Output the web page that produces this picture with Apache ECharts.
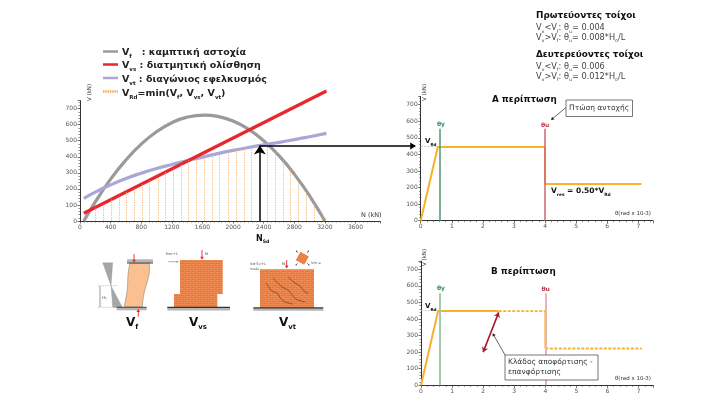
<!DOCTYPE html>
<html>
<head>
<meta charset="utf-8">
<title>Καμπύλες αντοχής τοίχων</title>
<style>
  html, body { margin: 0; padding: 0; background: #fff; }
  #chart { width: 725px; height: 407px; }
</style>
<script src="https://cdn.jsdelivr.net/npm/echarts@6/dist/echarts.min.js"></script>
</head>
<body>
<div id="chart"></div>
<script>
// left chart: V-N interaction curves
const vfN = [50, 200, 400, 600, 800, 1000, 1200, 1400, 1625, 1800, 2000, 2200, 2400, 2600, 2800, 3000, 3200];
const vfV = [0, 119, 261, 380, 479, 556, 612, 647, 660, 652, 623, 572, 500, 407, 292, 157, 0];
const vvsN = [50, 3220];
const vvsV = [48, 810];
const vtN = [50, 200, 400, 600, 800, 1000, 1200, 1400, 1600, 1800, 2000, 2200, 2400, 2600, 2800, 3000, 3220];
const vtV = [141, 180, 225, 265, 298, 327, 352, 376, 398, 420, 440, 458, 474, 490, 507, 525, 546];
const rdN = [196, 305, 414, 514, 610, 705, 810, 910, 1020, 1120, 1220, 1325, 1420, 1520, 1630, 1730, 1825, 1935, 2045, 2145, 2240, 2450, 2550, 2650, 2745, 2855, 2960, 3060, 3160];
const rdV = [83, 109, 135, 159, 182, 205, 230, 254, 281, 305, 329, 354, 378, 389, 401, 412, 422, 433, 444, 453, 461, 476, 432, 382, 327, 250, 185, 112, 33];
const nSd = 2350;
const vSd = 470;

// right charts: V-theta response
const thetaY = 0.6;
const thetaU = 4;
const thetaA = [0, 0.55, 4, 4, 7.1];
const forceA = [0, 445, 445, 222, 222];
const thetaBsolid = [0, 0.55, 2.5];
const forceBsolid = [0, 448, 448];
const thetaBdash = [2.5, 4];
const forceBdash = [448, 448];
const thetaBdrop = [4, 4];
const forceBdrop = [448, 222];
const thetaBres = [4, 7.1];
const forceBres = [222, 222];
const unloadTheta = [2.0, 2.5];
const unloadForce = [200, 440];

const FONT = '"DejaVu Sans", Verdana, sans-serif';
const GREY = '#9a9a9a';
const RED = '#e8262d';
const LILAC = '#a9a6d8';
const ORANGE = '#f5a95f';
const GOLD = '#f7b12a';

function pairs(xs, ys) {
  return xs.map((x, i) => [x, ys[i]]);
}

function axisPair(index, xMax, xStep, xMinor) {
  const common = {
    gridIndex: index,
    type: 'value',
    min: 0,
    splitLine: { show: false },
    axisLine: { onZero: false, lineStyle: { color: '#333', width: 1 } },
    axisTick: { length: 2.5, lineStyle: { color: '#333', width: 0.7 } },
    minorTick: { show: true, length: 1.5, lineStyle: { color: '#444', width: 0.6 } },
    axisLabel: { fontFamily: FONT, fontSize: 6, color: '#555', margin: 3, showMaxLabel: false, formatter: v => String(v) }
  };
  return {
    x: Object.assign({}, common, { max: xMax, interval: xStep,
      minorTick: Object.assign({}, common.minorTick, { splitNumber: xMinor }) }),
    y: Object.assign({}, common, { max: 750, interval: 100,
      minorTick: Object.assign({}, common.minorTick, { splitNumber: 5 }) })
  };
}

const left = axisPair(0, 3920, 400, 8);
const caseA = axisPair(1, 7.47, 1, 5);
const caseB = axisPair(2, 7.47, 1, 5);

function lineSeries(index, xs, ys, color, width, dashed, smooth) {
  return {
    type: 'line', xAxisIndex: index, yAxisIndex: index, data: pairs(xs, ys),
    symbol: 'none', smooth: smooth ? 0.5 : false, silent: true, clip: false,
    lineStyle: { color: color, width: width, type: dashed ? [3, 1.5] : 'solid', cap: 'butt' },
    z: 3
  };
}

function vLines(index, xs, tops, color, width, type, ends) {
  return {
    type: 'line', xAxisIndex: index, yAxisIndex: index, data: [], symbol: 'none', silent: true,
    markLine: {
      silent: true, animation: false,
      symbol: ends || ['none', 'none'], symbolSize: 8, precision: 3,
      label: { show: false },
      lineStyle: { color: color, width: width, type: type || 'solid' },
      data: xs.map((x, i) => [{ coord: [x, 0] }, { coord: [x, tops[i]] }])
    },
    z: 2
  };
}

function segment(index, x0, y0, x1, y1, color, width, type, ends, size) {
  return {
    type: 'line', xAxisIndex: index, yAxisIndex: index, data: [], symbol: 'none', silent: true,
    markLine: {
      silent: true, animation: false, precision: 3,
      symbol: ends || ['none', 'none'], symbolSize: size || 8,
      label: { show: false },
      lineStyle: { color: color, width: width, type: type || 'solid' },
      data: [[{ coord: [x0, y0] }, { coord: [x1, y1] }]]
    },
    z: 4
  };
}

// text helpers
function txt(x, y, text, size, weight, color, extra) {
  return Object.assign({
    type: 'text', x: x, y: y, silent: true, z: 20,
    style: { text: text, fontFamily: FONT,
      fontSize: size, fontWeight: weight || 'normal', fill: color || '#222', verticalAlign: 'middle' }
  }, extra || {});
}

function rich(x, y, text, size, weight, color, align) {
  const c = color || '#222';
  return {
    type: 'text', x: x, y: y, silent: true, z: 20,
    style: {
      text: text, fontFamily: FONT, fontSize: size, fontWeight: weight, fill: c,
      verticalAlign: 'middle', align: align || 'left',
      rich: {
        t: { fontFamily: FONT, fontSize: size, fontWeight: weight, fill: c, lineHeight: size + 3, verticalAlign: 'bottom' },
        s: { fontFamily: FONT, fontSize: size * 0.58, fontWeight: weight, fill: c, lineHeight: size + 3, verticalAlign: 'bottom', padding: [0, 0, -2, 0] }
      }
    }
  };
}

function poly(points, fill, stroke, width) {
  return { type: 'polygon', silent: true, z: 10, shape: { points: points },
    style: { fill: fill, stroke: stroke || 'none', lineWidth: width || 0 } };
}
function box(x, y, w, h, fill, stroke, width) {
  return { type: 'rect', silent: true, z: 10, shape: { x: x, y: y, width: w, height: h },
    style: { fill: fill, stroke: stroke || 'none', lineWidth: width || 0 } };
}
function seg(x1, y1, x2, y2, color, width, dash) {
  return { type: 'line', silent: true, z: 11, shape: { x1: x1, y1: y1, x2: x2, y2: y2 },
    style: { stroke: color, lineWidth: width, lineDash: dash || null } };
}
// arrow pointing from (x1,y1) to (x2,y2)
function arrow(x1, y1, x2, y2, color, width, head) {
  const a = Math.atan2(y2 - y1, x2 - x1);
  const h = head || 3;
  return [
    seg(x1, y1, x2 - Math.cos(a) * h * 0.8, y2 - Math.sin(a) * h * 0.8, color, width),
    poly([[x2, y2],
      [x2 - Math.cos(a) * h * 1.6 + Math.sin(a) * h, y2 - Math.sin(a) * h * 1.6 - Math.cos(a) * h],
      [x2 - Math.cos(a) * h * 1.6 - Math.sin(a) * h, y2 - Math.sin(a) * h * 1.6 + Math.cos(a) * h]], color)
  ];
}
function squig(points, color) {
  return { type: 'polyline', silent: true, z: 12, shape: { points: points, smooth: 0.3 },
    style: { stroke: color || '#6d3a1c', lineWidth: 0.7, fill: 'none' } };
}

// brick texture for the wall sketches
function brickPattern() {
  const c = document.createElement('canvas');
  c.width = 6; c.height = 4;
  const g = c.getContext('2d');
  g.fillStyle = '#e9773a';
  g.fillRect(0, 0, 6, 4);
  g.fillStyle = '#ef9560';
  g.fillRect(0, 0, 6, 0.6);
  g.fillRect(0, 2, 6, 0.6);
  g.fillRect(1, 0, 0.6, 2);
  g.fillRect(4, 2, 0.6, 2);
  return { image: c, repeat: 'repeat' };
}
const brick = brickPattern();

const graphics = [
  // top right notes
  txt(536, 15.5, 'Πρωτεύοντες τοίχοι', 8.9, 'bold', '#111'),
  rich(536, 26.5, '{t|V}{s|v}{t|<V}{s|f}{t|: θ}{s|u}{t|= 0.004}', 8.2, 'normal', '#444'),
  rich(536, 36, '{t|V}{s|v}{t|>V}{s|f}{t|: θ}{s|u}{t|= 0.008*H}{s|o}{t|/L}', 8.2, 'normal', '#444'),
  txt(536, 54.5, 'Δευτερεύοντες τοίχοι', 8.9, 'bold', '#111'),
  rich(536, 65, '{t|V}{s|v}{t|<V}{s|f}{t|: θ}{s|u}{t|= 0.006}', 8.2, 'normal', '#444'),
  rich(536, 75, '{t|V}{s|v}{t|>V}{s|f}{t|: θ}{s|u}{t|= 0.012*H}{s|o}{t|/L}', 8.2, 'normal', '#444'),

  // legend
  seg(103, 51.5, 118, 51.5, GREY, 2.5),
  seg(103, 64.5, 118, 64.5, RED, 2.5),
  seg(103, 78, 118, 78, LILAC, 2.5),
  seg(103, 91.5, 118, 91.5, ORANGE, 2.5, [1.5, 0.8]),
  rich(122, 51, '{t|V}{s|f}{t|   : καμπτική αστοχία}', 9.5, 'bold', '#222'),
  rich(122, 64.5, '{t|V}{s|vs}{t| : διατμητική ολίσθηση}', 9.5, 'bold', '#222'),
  rich(122, 78, '{t|V}{s|vt}{t| : διαγώνιος εφελκυσμός}', 9.5, 'bold', '#222'),
  rich(122, 92, '{t|V}{s|Rd}{t|=min(V}{s|f}{t|, V}{s|vs}{t|, V}{s|vt}{t|)}', 9.5, 'bold', '#222'),

  // axis names
  txt(361, 215, 'N (kN)', 6.5, 'normal', '#333'),
  txt(90, 101, 'V (kN)', 5.5, 'normal', '#333', { rotation: Math.PI / 2 }),
  rich(256, 237, '{t|N}{s|Sd}', 8, 'bold', '#111'),
  txt(424.5, 101, 'V (kN)', 5.5, 'normal', '#333', { rotation: Math.PI / 2 }),
  txt(424.5, 266, 'V (kN)', 5.5, 'normal', '#333', { rotation: Math.PI / 2 }),
  txt(615, 214, 'θ(rad x 10-3)', 5.5, 'normal', '#333'),
  txt(615, 379, 'θ(rad x 10-3)', 5.5, 'normal', '#333'),

  // case titles
  txt(492, 99.5, 'Α περίπτωση', 8.8, 'bold', '#111'),
  txt(491, 271.5, 'Β περίπτωση', 8.8, 'bold', '#111'),
  txt(437, 124, 'θy', 6, 'bold', '#3f8a5c'),
  txt(541, 125, 'θu', 6, 'bold', '#c0394b'),
  txt(437, 288, 'θy', 6, 'bold', '#3f8a5c'),
  txt(541.5, 289.5, 'θu', 6, 'bold', '#c0394b'),
  rich(425, 140, '{t|V}{s|Rd}', 7, 'bold', '#111'),
  rich(425, 305, '{t|V}{s|Rd}', 7, 'bold', '#111'),
  rich(551, 190, '{t|V}{s|res}{t| = 0.50*V}{s|Rd}', 7.5, 'bold', '#111'),

  // callout boxes
  box(566, 100, 66.5, 16.5, '#fff', '#555', 0.8),
  txt(569, 108.3, 'Πτώση αντοχής', 7.5, 'normal', '#333'),
  box(505, 355, 93, 25, '#fff', '#555', 0.8),
  txt(508, 362, 'Κλάδος αποφόρτισης -', 7.5, 'normal', '#333'),
  txt(508, 372.5, 'επανφόρτισης', 7.5, 'normal', '#333'),
  ...arrow(565.7, 107.7, 551, 120, '#222', 0.7, 1.8),
  ...arrow(505, 355, 492.7, 333.3, '#222', 0.7, 1.8),

  // big arrow into case A
  ...arrow(260, 146, 416, 146, '#000', 1.3, 3.6),

  // Vf sketch
  poly([[102.7, 262.7], [112.7, 262.7], [111, 285.7], [122.3, 307.3], [112.7, 307.3], [111, 285.7]], '#a6a6a6', '#8a8a8a', 0.3),
  poly([[130, 263], [128.5, 270], [127.8, 278], [127.6, 285], [126.8, 293], [125.5, 300], [124.3, 307],
        [142.3, 307], [143, 299], [144.5, 291], [147, 283], [149, 275], [149.6, 268], [149.3, 263]], '#fbc08f', '#777', 0.5),
  box(127, 259.3, 26, 3.4, '#b5b5b5'),
  seg(127, 263, 153, 263, '#222', 0.8),
  box(116.7, 307.3, 30, 3, '#b5b5b5'),
  seg(116.7, 307.3, 146.7, 307.3, '#222', 0.8),
  ...arrow(134, 254, 134, 262.6, '#e8262d', 0.9, 1.8),
  ...arrow(138.3, 316.7, 138.3, 309, '#e8262d', 0.9, 1.8),
  seg(97.7, 285.7, 118, 285.7, '#777', 0.4, [1.5, 1]),
  seg(97.7, 307.3, 117, 307.3, '#777', 0.4, [1.5, 1]),
  seg(100, 286, 100, 307, '#333', 0.5),
  txt(102, 298, 'H₀', 4, 'normal', '#555'),
  rich(126, 321, '{t|V}{s|f}', 12, 'bold', '#111'),

  // Vvs sketch
  box(180, 260, 42.7, 34, brick),
  box(174, 294, 43.3, 13, brick),
  box(167.3, 307, 62.7, 3.5, '#b5b5b5'),
  seg(167.3, 307.3, 230, 307.3, '#111', 1),
  ...arrow(202, 250, 202, 259.7, '#e8262d', 0.9, 1.8),
  txt(205, 254, 'N', 3.8, 'normal', '#444'),
  txt(165.8, 254, 'fᴍᴜ·t·L', 3.8, 'normal', '#555'),
  ...arrow(168.3, 261.7, 178.3, 261.7, '#666', 0.5, 1),
  rich(189, 321, '{t|V}{s|vs}', 12, 'bold', '#111'),

  // Vvt sketch
  box(260, 269.3, 54, 38.4, brick),
  box(253.3, 307.7, 70, 3, '#b5b5b5'),
  seg(253.3, 307.9, 323.3, 307.9, '#111', 1),
  ...arrow(286.7, 260, 286.7, 268.5, '#e8262d', 0.9, 1.8),
  txt(282, 264, 'N', 3.8, 'normal', '#444'),
  txt(250, 264, 'Vᴍ·Sᴜ·t·L', 3.6, 'normal', '#555'),
  txt(250, 269, 'mode', 3.2, 'normal', '#555'),
  squig([[266, 283], [272, 291], [277, 293], [283, 301], [293, 304]]),
  squig([[273, 278], [282, 287], [288, 290], [296, 299], [305, 302]]),
  squig([[288, 277], [295, 283], [300, 286], [305, 292], [308, 293]]),
  { type: 'rect', silent: true, z: 10, x: 302.3, y: 258.3, rotation: -0.5,
    shape: { x: -4.8, y: -4.8, width: 9.6, height: 9.6 }, style: { fill: brick } },
  ...arrow(298, 253, 296, 250.5, '#333', 0.5, 0.9),
  ...arrow(307, 253, 309, 250.5, '#333', 0.5, 0.9),
  ...arrow(298, 263, 295.5, 265.5, '#333', 0.5, 0.9),
  ...arrow(307, 263, 309.5, 265.5, '#333', 0.5, 0.9),
  txt(311, 263, 'Vm =', 3.6, 'normal', '#555'),
  rich(279, 321, '{t|V}{s|vt}', 12, 'bold', '#111')
];

const option = {
  animation: false,
  backgroundColor: '#fff',
  grid: [
    { left: 80, top: 100.6, width: 300, height: 120.4 },
    { left: 420.7, top: 96.4, width: 232.2, height: 124.3 },
    { left: 421, top: 261, width: 232.2, height: 124.3 }
  ],
  xAxis: [left.x, caseA.x, caseB.x],
  yAxis: [left.y, caseA.y, caseB.y],
  graphic: graphics,
  series: [
    vLines(0, rdN, rdV, ORANGE, 0.7, [1.5, 1]),
    lineSeries(0, vfN, vfV, GREY, 3.2, false, true),
    lineSeries(0, vtN, vtV, LILAC, 3.2, false, true),
    lineSeries(0, vvsN, vvsV, RED, 3.2),
    segment(0, nSd, 0, nSd, vSd, '#000', 1.5, 'solid', ['none', 'arrow'], 9),

    vLines(1, [thetaY], [555], '#4f9a6e', 1.5),
    vLines(1, [thetaU], [555], '#cc6675', 1.5),
    segment(1, 0, 450, 0.55, 450, '#bbb', 0.8, [2, 1.5]),
    lineSeries(1, thetaA, forceA, GOLD, 2),

    vLines(2, [thetaY], [555], '#a3cbb0', 2),
    vLines(2, [thetaU], [555], '#e8b4b4', 2),
    segment(2, 0, 452, 0.55, 452, '#bbb', 0.8, [2, 1.5]),
    lineSeries(2, thetaBsolid, forceBsolid, GOLD, 2),
    lineSeries(2, thetaBdash, forceBdash, GOLD, 1.8, true),
    lineSeries(2, thetaBdrop, forceBdrop, GOLD, 1.8),
    lineSeries(2, thetaBres, forceBres, GOLD, 1.8, true),
    segment(2, unloadTheta[0], unloadForce[0], unloadTheta[1], unloadForce[1], '#a51c2e', 1.6, 'solid', ['arrow', 'arrow'], 5)
  ]
};

const chart = echarts.init(document.getElementById('chart'));
chart.setOption(option);
</script>
</body>
</html>
